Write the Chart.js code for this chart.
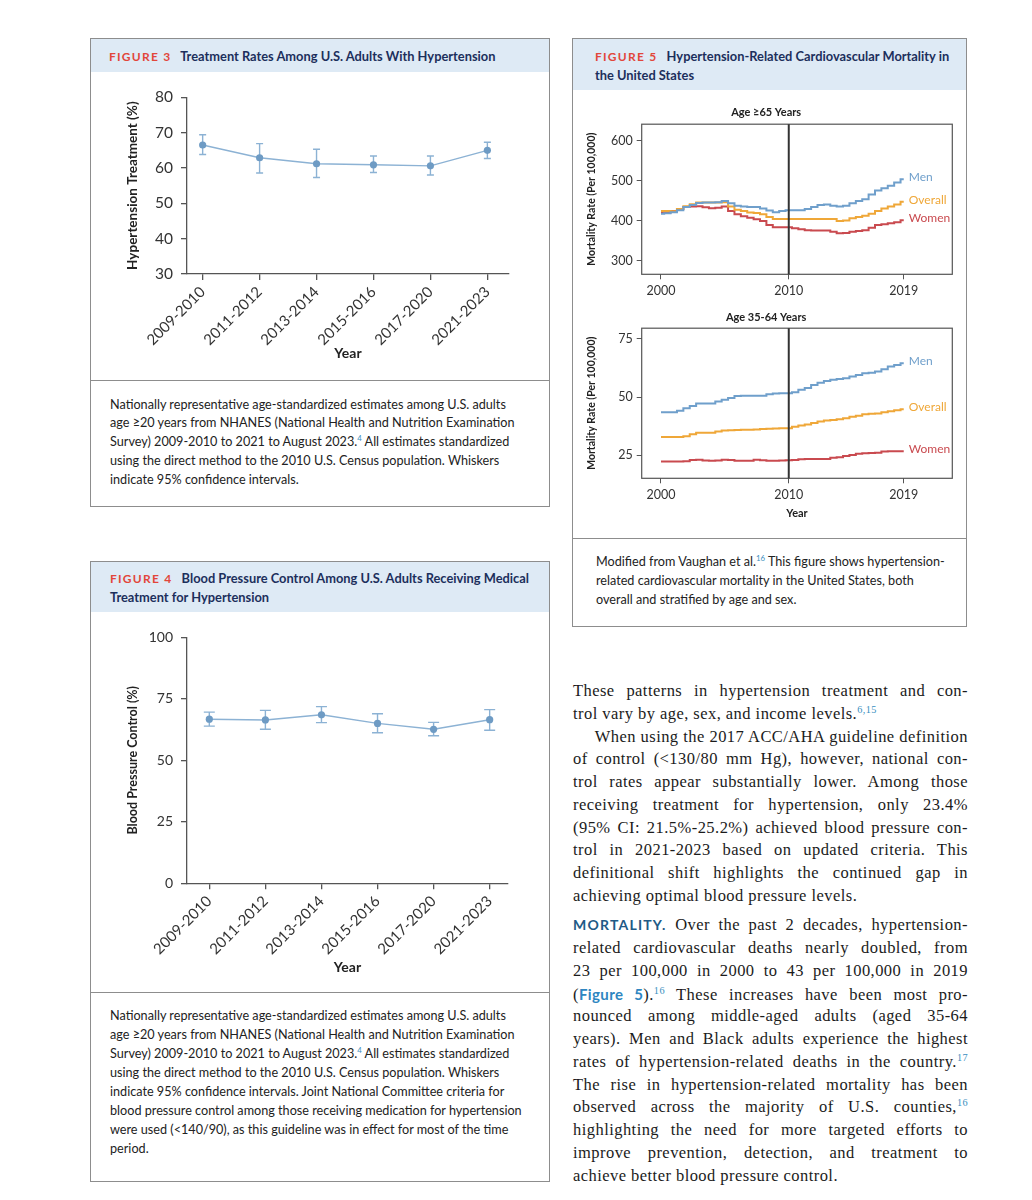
<!DOCTYPE html>
<html>
<head>
<meta charset="utf-8">
<script src="https://cdn.jsdelivr.net/npm/chart.js@4.4.1/dist/chart.umd.min.js"></script>
<style>
  body { margin: 0; background: #fff; }
  #page { position: relative; width: 1032px; height: 1200px; overflow: hidden; font-family: Lato, 'Noto Sans', sans-serif; }
  .panel { position: absolute; border: 1px solid #8d8d8d; box-sizing: border-box; }
  .head { position: absolute; background: #deeaf5; color: #1c2f5c; font-weight: bold; font-size: 12.85px; line-height: 18px; box-sizing: border-box; white-space: nowrap; }
  .fig { color: #e2463b; letter-spacing: 1.25px; margin-right: 6px; font-size: 12px; }
  .rule { position: absolute; height: 1px; background: #8d8d8d; }
  .cap { position: absolute; font-size: 12.65px; color: #222; white-space: nowrap; }
  .cap sup, .body sup { color: #3a8fc0; font-size: 0.62em; line-height: 0; }
  canvas { position: absolute; }
  .body { position: absolute; left: 573px; top: 680px; width: 395px; font-family: 'Liberation Serif', serif; font-size: 16.5px; letter-spacing: 0.45px; color: #1b1b1b; }
  .ln { width: 395px; height: 22.75px; line-height: 22.75px; white-space: nowrap; }
  .j { text-align: justify; text-align-last: justify; }
  .gap { margin-top: 6.75px; }
  .mort { font-family: Lato, sans-serif; font-weight: bold; color: #215a86; letter-spacing: 1.2px; font-size: 14px; }
  .link { font-family: Lato, sans-serif; font-weight: bold; color: #2e86c1; font-size: 15px; letter-spacing: 0.4px; }
</style>
</head>
<body>
<div id="page">

  <!-- Figure 3 -->
  <div class="panel" style="left:90px; top:38px; width:460px; height:469px;"></div>
  <div class="head" style="left:91px; top:39px; width:458px; height:33px; padding:8px 0 0 18px;">
    <span class="fig">FIGURE 3</span> Treatment Rates Among U.S. Adults With Hypertension
  </div>
  <canvas id="fig3" width="440" height="290" style="left:100px; top:80px; width:440px; height:290px;"></canvas>
  <div class="rule" style="left:90px; top:380px; width:460px;"></div>
  <div class="cap" style="left:110px; top:395.6px; line-height:18.8px;">
    Nationally representative age-standardized estimates among U.S. adults<br>
    age ≥20 years from NHANES (National Health and Nutrition Examination<br>
    Survey) 2009-2010 to 2021 to August 2023.<sup>4</sup> All estimates standardized<br>
    using the direct method to the 2010 U.S. Census population. Whiskers<br>
    indicate 95% confidence intervals.
  </div>

  <!-- Figure 4 -->
  <div class="panel" style="left:90px; top:561px; width:460px; height:621px;"></div>
  <div class="head" style="left:91px; top:562px; width:458px; height:50px; padding:7px 0 0 19px;">
    <span class="fig">FIGURE 4</span> Blood Pressure Control Among U.S. Adults Receiving Medical<br>
    Treatment for Hypertension
  </div>
  <canvas id="fig4" width="440" height="370" style="left:100px; top:620px; width:440px; height:370px;"></canvas>
  <div class="rule" style="left:90px; top:992px; width:460px;"></div>
  <div class="cap" style="left:110px; top:1007.3px; line-height:18.9px;">
    Nationally representative age-standardized estimates among U.S. adults<br>
    age ≥20 years from NHANES (National Health and Nutrition Examination<br>
    Survey) 2009-2010 to 2021 to August 2023.<sup>4</sup> All estimates standardized<br>
    using the direct method to the 2010 U.S. Census population. Whiskers<br>
    indicate 95% confidence intervals. Joint National Committee criteria for<br>
    blood pressure control among those receiving medication for hypertension<br>
    were used (&lt;140/90), as this guideline was in effect for most of the time<br>
    period.
  </div>

  <!-- Figure 5 -->
  <div class="panel" style="left:572px; top:38px; width:395px; height:589px;"></div>
  <div class="head" style="left:573px; top:39px; width:393px; height:51px; padding:8px 0 0 22px;">
    <span class="fig">FIGURE 5</span> Hypertension-Related Cardiovascular Mortality in<br>
    the United States
  </div>
  <canvas id="fig5a" width="434" height="200" style="left:580px; top:100px; width:434px; height:200px;"></canvas>
  <canvas id="fig5b" width="434" height="220" style="left:580px; top:305px; width:434px; height:220px;"></canvas>
  <div class="rule" style="left:572px; top:538px; width:395px;"></div>
  <div class="cap" style="left:596px; top:552px; line-height:19.2px;">
    Modified from Vaughan et al.<sup>16</sup> This figure shows hypertension-<br>
    related cardiovascular mortality in the United States, both<br>
    overall and stratified by age and sex.
  </div>

  <!-- Body text -->
  <div class="body">
    <div class="ln j">These patterns in hypertension treatment and con-</div>
    <div class="ln">trol vary by age, sex, and income levels.<sup>6,15</sup></div>
    <div class="ln j" style="padding-left:21.7px; width:373.3px;">When using the 2017 ACC/AHA guideline definition</div>
    <div class="ln j">of control (&lt;130/80 mm Hg), however, national con-</div>
    <div class="ln j">trol rates appear substantially lower. Among those</div>
    <div class="ln j">receiving treatment for hypertension, only 23.4%</div>
    <div class="ln j">(95% CI: 21.5%-25.2%) achieved blood pressure con-</div>
    <div class="ln j">trol in 2021-2023 based on updated criteria. This</div>
    <div class="ln j">definitional shift highlights the continued gap in</div>
    <div class="ln">achieving optimal blood pressure levels.</div>
    <div class="ln j gap"><span class="mort">MORTALITY.</span> Over the past 2 decades, hypertension-</div>
    <div class="ln j">related cardiovascular deaths nearly doubled, from</div>
    <div class="ln j">23 per 100,000 in 2000 to 43 per 100,000 in 2019</div>
    <div class="ln j">(<span class="link">Figure 5</span>).<sup>16</sup> These increases have been most pro-</div>
    <div class="ln j">nounced among middle-aged adults (aged 35-64</div>
    <div class="ln j">years). Men and Black adults experience the highest</div>
    <div class="ln j">rates of hypertension-related deaths in the country.<sup>17</sup></div>
    <div class="ln j">The rise in hypertension-related mortality has been</div>
    <div class="ln j">observed across the majority of U.S. counties,<sup>16</sup></div>
    <div class="ln j">highlighting the need for more targeted efforts to</div>
    <div class="ln j">improve prevention, detection, and treatment to</div>
    <div class="ln">achieve better blood pressure control.</div>
  </div>
</div>

<script>
// NHANES survey cycles (Figures 3 and 4)
const periods = ['2009-2010', '2011-2012', '2013-2014', '2015-2016', '2017-2020', '2021-2023'];

// Figure 3: treatment rate (%) with 95% CI
const treatRate = [66.5, 62.9, 61.2, 60.9, 60.6, 65.0];
const treatLow  = [63.8, 58.6, 57.3, 58.7, 58.0, 62.7];
const treatHigh = [69.4, 66.9, 65.3, 63.4, 63.4, 67.3];
const treatTicks = [30, 40, 50, 60, 70, 80];

// Figure 4: blood pressure control (%) with 95% CI
const controlRate = [66.7, 66.4, 68.5, 65.0, 62.6, 66.5];
const controlLow  = [63.9, 62.6, 65.3, 61.2, 60.0, 62.2];
const controlHigh = [69.6, 70.3, 71.8, 68.9, 65.4, 70.6];
const controlTicks = [0, 25, 50, 75, 100];

// Figure 5: mortality per 100,000, read every half year
const years = [2000, 2000.5, 2001, 2001.5, 2002, 2002.5, 2003, 2003.5, 2004, 2004.5,
  2005, 2005.5, 2006, 2006.5, 2007, 2007.5, 2008, 2008.5, 2009, 2009.5,
  2010, 2010.5, 2011, 2011.5, 2012, 2012.5, 2013, 2013.5, 2014, 2014.5,
  2015, 2015.5, 2016, 2016.5, 2017, 2017.5, 2018, 2018.5, 2019];
const yearTicks = [2000, 2010, 2019];
const refYear = 2010;

const men65 = [418, 419, 422, 427, 435, 440, 445, 446, 446, 447,
  450, 444, 438, 436, 435, 435, 431, 426, 422, 425,
  427, 427, 427, 430, 435, 440, 441, 438, 436, 438,
  444, 450, 454, 466, 476, 482, 488, 496, 504];
const overall65 = [425, 425, 424, 430, 437, 442, 446, 446, 446, 446,
  447, 436, 428, 425, 421, 420, 417, 410, 405, 405,
  405, 405, 405, 405, 405, 405, 405, 405, 400, 401,
  407, 410, 413, 418, 425, 431, 436, 441, 448];
const women65 = [420, 421, 425, 430, 435, 436, 437, 434, 432, 433,
  436, 425, 417, 412, 408, 404, 400, 390, 384, 384,
  384, 382, 379, 377, 376, 376, 376, 373, 369, 370,
  373, 375, 377, 383, 390, 392, 394, 397, 402];
const ticks65 = [300, 400, 500, 600];

const men3564 = [43.5, 43.5, 43.5, 44.1, 45.2, 46.2, 47.2, 47.2, 47.2, 48.1,
  48.9, 49.6, 50.5, 50.6, 50.6, 50.6, 50.6, 51.2, 51.5, 51.6,
  51.6, 52.1, 53.1, 53.9, 55.2, 56.2, 56.9, 57.4, 57.8, 58.1,
  58.8, 59.5, 60.2, 60.5, 61.0, 62.0, 63.1, 63.8, 64.5];
const overall3564 = [32.9, 32.9, 32.9, 32.9, 33.2, 34.0, 34.7, 34.7, 34.7, 35.2,
  35.6, 35.8, 35.9, 36.0, 36.0, 36.1, 36.3, 36.4, 36.5, 36.6,
  36.6, 37.2, 37.8, 38.2, 38.9, 39.5, 39.9, 40.2, 40.5, 40.9,
  41.5, 42.0, 42.6, 42.8, 42.9, 43.5, 43.9, 44.3, 44.8];
const women3564 = [22.3, 22.3, 22.3, 22.3, 22.4, 23.0, 23.1, 22.7, 22.6, 22.7,
  23.1, 23.0, 22.6, 22.6, 22.6, 23.1, 22.9, 22.6, 22.6, 22.7,
  22.9, 23.0, 23.3, 23.4, 23.4, 23.4, 23.4, 23.9, 24.1, 24.7,
  25.1, 25.6, 25.9, 26.0, 26.1, 26.6, 26.7, 26.7, 26.7];
const ticks3564 = [25, 50, 75];

const lineBlue = '#8cb2d4';
const dotBlue = '#6e9bc4';
const axisGrey = '#555';
const menColor = '#6f9fcb';
const overallColor = '#efa738';
const womenColor = '#c94a4f';

// whiskers drawn through the chart's own scales
const errorBars = {
  id: 'errorBars',
  beforeDatasetsDraw(chart, args, opts) {
    if (!opts.low) return;
    const { ctx, scales: { x, y } } = chart;
    ctx.save();
    ctx.strokeStyle = opts.color;
    ctx.lineWidth = 1.4;
    opts.low.forEach((lo, i) => {
      const px = x.getPixelForValue(i);
      const yLo = y.getPixelForValue(lo);
      const yHi = y.getPixelForValue(opts.high[i]);
      ctx.beginPath();
      ctx.moveTo(px, yLo); ctx.lineTo(px, yHi);
      ctx.moveTo(px - opts.cap, yLo); ctx.lineTo(px + opts.cap, yLo);
      ctx.moveTo(px - opts.cap, yHi); ctx.lineTo(px + opts.cap, yHi);
      ctx.stroke();
    });
    ctx.restore();
  }
};

// box round the plot, 2010 marker and end labels for Figure 5
const mortalityDecor = {
  id: 'mortalityDecor',
  afterDatasetsDraw(chart, args, opts) {
    if (!opts.frame) return;
    const { ctx, chartArea: a, scales: { x } } = chart;
    ctx.save();
    ctx.strokeStyle = axisGrey;
    ctx.lineWidth = 1.2;
    ctx.strokeRect(a.left, a.top, a.right - a.left, a.bottom - a.top);
    const rx = x.getPixelForValue(refYear);
    ctx.strokeStyle = '#333';
    ctx.lineWidth = 2;
    ctx.beginPath();
    ctx.moveTo(rx, a.top); ctx.lineTo(rx, a.bottom);
    ctx.stroke();
    ctx.font = '12px Lato';
    ctx.textBaseline = 'middle';
    chart.data.datasets.forEach((ds, i) => {
      const pts = chart.getDatasetMeta(i).data;
      const last = pts[pts.length - 1];
      ctx.fillStyle = ds.borderColor;
      ctx.fillText(ds.label, last.x + 5, last.y - 2);
    });
    ctx.restore();
  }
};

Chart.register(errorBars, mortalityDecor);

function pointsOf(values) {
  return values.map((v, i) => ({ x: i, y: v }));
}

function surveyChart(id, opt) {
  return new Chart(document.getElementById(id), {
    type: 'line',
    data: {
      datasets: [{
        data: pointsOf(opt.values),
        borderColor: lineBlue,
        borderWidth: 1.4,
        pointRadius: 3.6,
        pointBackgroundColor: dotBlue,
        pointBorderWidth: 0,
        tension: 0
      }]
    },
    options: {
      responsive: false,
      animation: false,
      layout: { padding: { top: opt.padTop, right: opt.padRight, left: 0, bottom: 0 } },
      plugins: {
        legend: { display: false },
        tooltip: { enabled: false },
        errorBars: { low: opt.low, high: opt.high, color: lineBlue, cap: opt.cap }
      },
      scales: {
        x: {
          type: 'linear',
          min: opt.xMin,
          max: opt.xMax,
          afterBuildTicks: s => { s.ticks = periods.map((p, i) => ({ value: i })); },
          afterFit: s => { s.height = opt.xHeight; },
          ticks: {
            callback: v => periods[v],
            minRotation: 45, maxRotation: 45, autoSkip: false,
            color: '#333', font: { family: 'Lato', size: 15 }, padding: 3
          },
          grid: { drawOnChartArea: false, tickLength: 6, color: axisGrey, lineWidth: 1.3 },
          border: { color: axisGrey, width: 1.3 },
          title: {
            display: true, text: 'Year', color: '#222',
            font: { family: 'Lato', size: 14, weight: 'bold' },
            padding: { top: 0, bottom: opt.yearPad }
          }
        },
        y: {
          min: opt.ticks[0],
          max: opt.ticks[opt.ticks.length - 1],
          afterBuildTicks: s => { s.ticks = opt.ticks.map(v => ({ value: v })); },
          afterFit: s => { s.width = 87; },
          ticks: { color: '#333', font: { family: 'Lato', size: opt.tickSize }, padding: 8 },
          grid: { drawOnChartArea: false, tickLength: 6, color: axisGrey, lineWidth: 1.3 },
          border: { color: axisGrey, width: 1.3 },
          title: {
            display: true, text: opt.yTitle, color: '#222',
            font: { family: 'Lato', size: opt.yTitleSize, weight: 'bold' },
            padding: { top: opt.yTitlePad, bottom: 0 }
          }
        }
      }
    }
  });
}

surveyChart('fig3', {
  values: treatRate, low: treatLow, high: treatHigh, ticks: treatTicks,
  xMin: -0.275, xMax: 5.38, padTop: 16.7, padRight: 31, xHeight: 96,
  yearPad: 8.5, yTitle: 'Hypertension Treatment (%)', yTitleSize: 13.5, yTitlePad: 24.9,
  tickSize: 15.5, cap: 3.5
});

surveyChart('fig4', {
  values: controlRate, low: controlLow, high: controlHigh, ticks: controlTicks,
  xMin: -0.398, xMax: 5.327, padTop: 17.3, padRight: 32, xHeight: 106.7,
  yearPad: 14.3, yTitle: 'Blood Pressure Control (%)', yTitleSize: 12.5, yTitlePad: 25.8,
  tickSize: 14, cap: 5.5
});

function mortalityChart(id, opt) {
  const series = [
    { label: 'Men', values: opt.men, color: menColor },
    { label: 'Overall', values: opt.overall, color: overallColor },
    { label: 'Women', values: opt.women, color: womenColor }
  ];
  return new Chart(document.getElementById(id), {
    type: 'line',
    data: {
      datasets: series.map(s => ({
        label: s.label,
        data: s.values.map((v, i) => ({ x: years[i], y: v })),
        borderColor: s.color,
        borderWidth: 2,
        pointRadius: 0,
        stepped: 'middle'
      }))
    },
    options: {
      responsive: false,
      animation: false,
      layout: { padding: { top: 0, right: 61.7, left: 0, bottom: 0 } },
      plugins: {
        legend: { display: false },
        tooltip: { enabled: false },
        title: {
          display: true, text: opt.title, color: '#222',
          font: { family: 'Lato', size: 11, weight: 'bold' },
          padding: opt.titlePad
        },
        mortalityDecor: { frame: true }
      },
      scales: {
        x: {
          type: 'linear',
          min: 1998.49,
          max: 2022.8,
          afterBuildTicks: s => { s.ticks = yearTicks.map(v => ({ value: v })); },
          afterFit: s => { s.height = opt.xHeight; },
          ticks: { color: '#333', font: { family: 'Lato', size: 12.5 }, padding: 4, callback: v => String(v) },
          grid: { drawOnChartArea: false, tickLength: 5, color: axisGrey },
          border: { display: false },
          title: {
            display: opt.showYear, text: 'Year', color: '#222',
            font: { family: 'Lato', size: 11, weight: 'bold' },
            padding: { top: 0, bottom: 5.4 }
          }
        },
        y: {
          min: opt.yMin,
          max: opt.yMax,
          afterBuildTicks: s => { s.ticks = opt.ticks.map(v => ({ value: v })); },
          afterFit: s => { s.width = 61.7; },
          ticks: { color: '#333', font: { family: 'Lato', size: 12.5 }, padding: 4 },
          grid: { drawOnChartArea: false, tickLength: 5, color: axisGrey },
          border: { display: false },
          title: {
            display: true, text: 'Mortality Rate (Per 100,000)', color: '#222',
            font: { family: 'Lato', size: 10.5, weight: 'bold' },
            padding: { top: 5.4, bottom: 0 }
          }
        }
      }
    }
  });
}

mortalityChart('fig5a', {
  title: 'Age ≥65 Years', titlePad: { top: 6, bottom: 5 },
  men: men65, overall: overall65, women: women65, ticks: ticks65,
  yMin: 266.75, yMax: 641.75, xHeight: 25.7, showYear: false
});

mortalityChart('fig5b', {
  title: 'Age 35-64 Years', titlePad: { top: 6, bottom: 4 },
  men: men3564, overall: overall3564, women: women3564, ticks: ticks3564,
  yMin: 15.1, yMax: 79.6, xHeight: 46.7, showYear: true
});
</script>
</body>
</html>
